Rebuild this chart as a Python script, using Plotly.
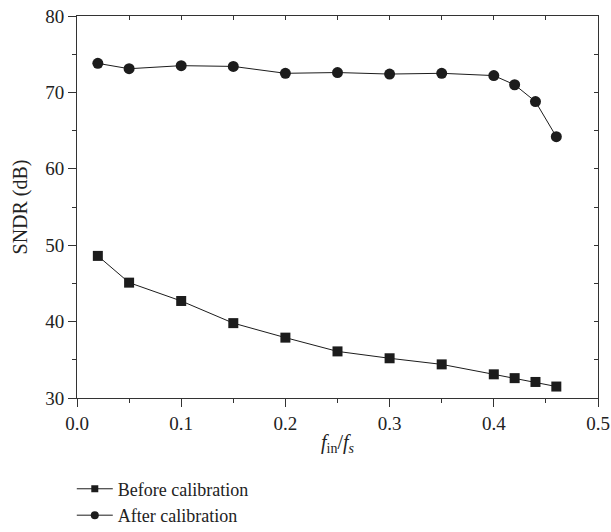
import plotly.graph_objects as go

x_vals = [0.02, 0.05, 0.1, 0.15, 0.2, 0.25, 0.3, 0.35, 0.4, 0.42, 0.44, 0.46]
before_cal = [48.6, 45.1, 42.7, 39.8, 37.9, 36.1, 35.2, 34.4, 33.1, 32.6, 32.1, 31.5]
after_cal = [73.8, 73.1, 73.5, 73.4, 72.5, 72.6, 72.4, 72.5, 72.2, 71.0, 68.8, 64.2]
x_ticks = [0.0, 0.1, 0.2, 0.3, 0.4, 0.5]
x_labels = ["0.0", "0.1", "0.2", "0.3", "0.4", "0.5"]
y_ticks = [30, 40, 50, 60, 70, 80]

col = "#1c1c1c"
axc = "#333"
font = "Liberation Serif"

fig = go.Figure()
fig.add_trace(go.Scatter(x=x_vals, y=before_cal, mode="lines+markers", name="Before calibration",
                         line=dict(color=col, width=1), marker=dict(symbol="square", size=10, color=col),
                         showlegend=False))
fig.add_trace(go.Scatter(x=x_vals, y=after_cal, mode="lines+markers", name="After calibration",
                         line=dict(color=col, width=1), marker=dict(symbol="circle", size=11, color=col),
                         showlegend=False))
# legend entries with smaller symbols
fig.add_trace(go.Scatter(x=[None], y=[None], mode="lines+markers", name="Before calibration",
                         line=dict(color=col, width=1), marker=dict(symbol="square", size=7, color=col)))
fig.add_trace(go.Scatter(x=[None], y=[None], mode="lines+markers", name="After calibration",
                         line=dict(color=col, width=1), marker=dict(symbol="circle", size=8, color=col)))

fig.update_layout(
    width=611, height=532,
    margin=dict(l=77, r=13, t=16, b=134, autoexpand=False),
    paper_bgcolor="white", plot_bgcolor="white",
    font=dict(family=font, size=19, color="#222"),
    showlegend=True,
    legend=dict(x=-0.01, y=-0.19, xanchor="left", yanchor="top", traceorder="normal",
                font=dict(size=18, color="#222"), bgcolor="rgba(0,0,0,0)", itemwidth=36),
    xaxis=dict(range=[0, 0.5], tickvals=x_ticks, ticktext=x_labels, ticks="outside", ticklen=8,
               tickcolor=axc, showline=True, linecolor=axc, linewidth=1, showgrid=False,
               zeroline=False, automargin=False,
               minor=dict(tickvals=[0.05, 0.15, 0.25, 0.35, 0.45], ticks="outside", ticklen=4, tickcolor=axc),
               title=dict(text="<i>f</i><sub>in</sub>/<i>f</i><sub><i>s</i></sub>", font=dict(size=20), standoff=2)),
    yaxis=dict(range=[30, 80], tickvals=y_ticks, ticks="outside", ticklen=8, tickcolor=axc,
               showline=True, linecolor=axc, linewidth=1, showgrid=False, zeroline=False, automargin=False,
               minor=dict(tickvals=[35, 45, 55, 65, 75], ticks="outside", ticklen=4, tickcolor=axc),
               title=dict(text="SNDR (dB)", font=dict(size=20), standoff=12)),
    xaxis2=dict(range=[0, 0.5], overlaying="x", side="top", tickvals=[0.05 * i for i in range(11)],
                ticks="inside", ticklen=4, tickcolor=axc, showticklabels=False, showline=True,
                linecolor=axc, linewidth=1, showgrid=False, zeroline=False, automargin=False),
    yaxis2=dict(range=[30, 80], overlaying="y", side="right", tickvals=[30 + 5 * i for i in range(11)],
                ticks="inside", ticklen=4, tickcolor=axc, showticklabels=False, showline=True,
                linecolor=axc, linewidth=1, showgrid=False, zeroline=False, automargin=False),
)
# invisible trace to activate the mirrored axes
fig.add_trace(go.Scatter(x=[0], y=[30], xaxis="x2", yaxis="y2", mode="markers",
                         marker=dict(opacity=0), showlegend=False, hoverinfo="skip"))

fig.write_html("out.html")
